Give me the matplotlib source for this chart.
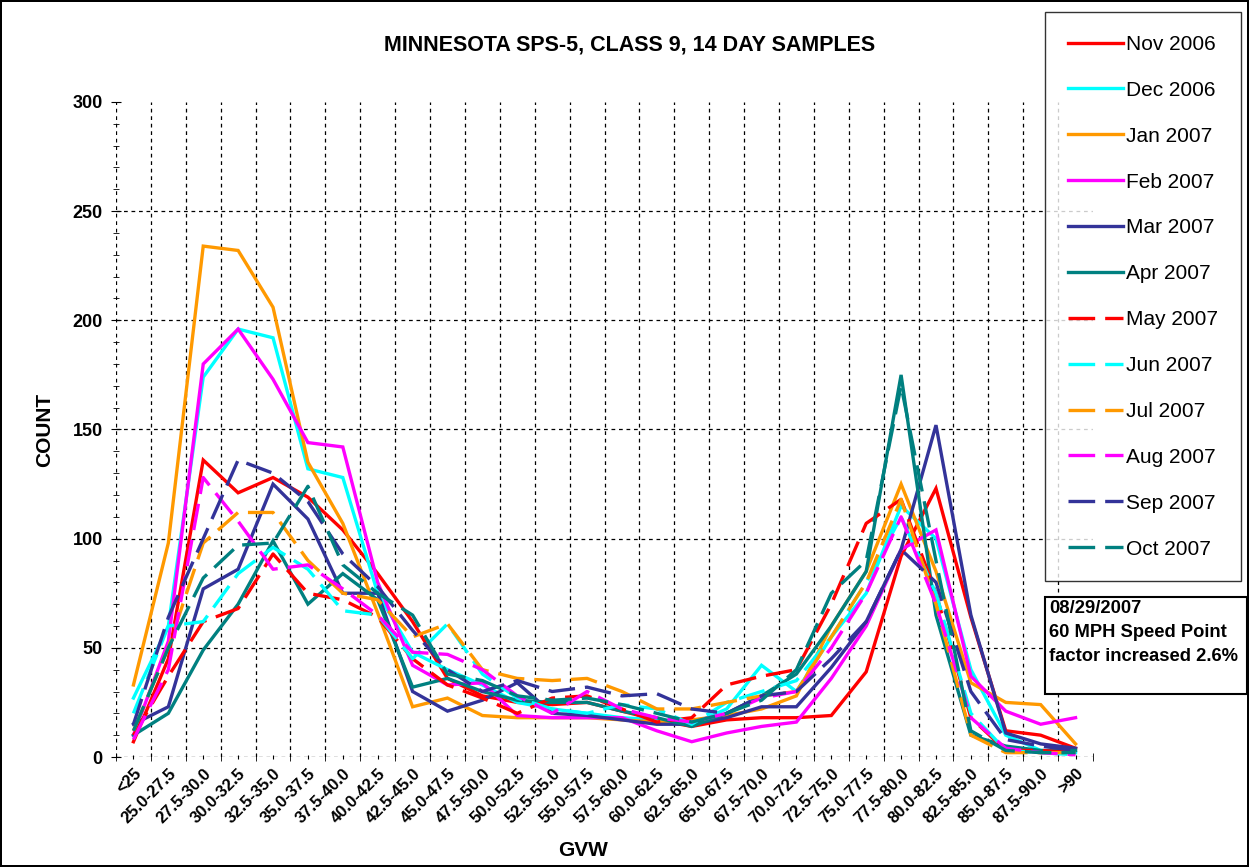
import matplotlib
matplotlib.use("Agg")
import matplotlib.pyplot as plt
from matplotlib.patches import Rectangle

plt.rcParams["font.family"] = ["Liberation Sans", "DejaVu Sans"]

categories = ["<25", "25.0-27.5", "27.5-30.0", "30.0-32.5", "32.5-35.0", "35.0-37.5",
              "37.5-40.0", "40.0-42.5", "42.5-45.0", "45.0-47.5", "47.5-50.0", "50.0-52.5",
              "52.5-55.0", "55.0-57.5", "57.5-60.0", "60.0-62.5", "62.5-65.0", "65.0-67.5",
              "67.5-70.0", "70.0-72.5", "72.5-75.0", "75.0-77.5", "77.5-80.0", "80.0-82.5",
              "82.5-85.0", "85.0-87.5", "87.5-90.0", ">90"]

nov_2006 = [7, 45, 136, 121, 128, 119, 104, 84, 62, 36, 28, 25, 24, 25, 21, 17, 14, 17, 18, 18, 19, 39, 92, 123, 64, 12, 10, 4]
dec_2006 = [27, 60, 174, 196, 192, 132, 128, 75, 48, 40, 33, 25, 22, 20, 18, 17, 15, 22, 42, 30, 55, 75, 115, 100, 40, 10, 3, 2]
jan_2007 = [33, 98, 234, 232, 206, 135, 107, 66, 23, 27, 19, 18, 18, 18, 17, 16, 17, 19, 22, 28, 60, 85, 125, 85, 34, 25, 24, 6]
feb_2007 = [10, 53, 180, 196, 173, 144, 142, 80, 42, 33, 34, 19, 18, 18, 18, 12, 7, 11, 14, 16, 36, 60, 95, 104, 37, 21, 15, 18]
mar_2007 = [15, 23, 77, 86, 125, 109, 75, 75, 30, 21, 26, 34, 20, 19, 17, 15, 15, 18, 23, 23, 41, 62, 95, 152, 65, 11, 6, 4]
apr_2007 = [10, 20, 49, 70, 99, 70, 84, 72, 32, 36, 30, 26, 25, 25, 21, 18, 14, 20, 28, 38, 60, 85, 175, 65, 10, 5, 3, 3]
may_2007 = [10, 37, 62, 68, 93, 75, 72, 64, 45, 33, 27, 20, 27, 28, 22, 16, 18, 33, 37, 40, 70, 107, 118, 75, 18, 3, 3, 2]
jun_2007 = [20, 60, 62, 84, 96, 86, 67, 65, 45, 61, 38, 27, 22, 20, 24, 22, 15, 25, 30, 35, 55, 80, 110, 75, 20, 3, 2, 1]
jul_2007 = [12, 50, 98, 112, 112, 90, 75, 72, 55, 61, 40, 36, 35, 36, 30, 22, 22, 25, 28, 30, 55, 80, 118, 70, 10, 2, 2, 2]
aug_2007 = [8, 40, 128, 108, 86, 88, 77, 65, 48, 47, 40, 28, 20, 30, 22, 18, 16, 20, 27, 30, 50, 75, 110, 70, 18, 4, 2, 1]
sep_2007 = [15, 64, 100, 136, 130, 117, 93, 78, 58, 40, 30, 35, 30, 32, 28, 29, 22, 20, 28, 30, 45, 62, 95, 80, 30, 8, 5, 3]
oct_2007 = [12, 50, 82, 97, 98, 124, 88, 75, 65, 38, 35, 28, 26, 27, 24, 20, 16, 20, 26, 40, 75, 90, 170, 90, 12, 3, 2, 2]

series = [
    ("Nov 2006", nov_2006, "#FF0000", "-"),
    ("Dec 2006", dec_2006, "#00FFFF", "-"),
    ("Jan 2007", jan_2007, "#FF9900", "-"),
    ("Feb 2007", feb_2007, "#FF00FF", "-"),
    ("Mar 2007", mar_2007, "#333399", "-"),
    ("Apr 2007", apr_2007, "#008080", "-"),
    ("May 2007", may_2007, "#FF0000", "--"),
    ("Jun 2007", jun_2007, "#00FFFF", "--"),
    ("Jul 2007", jul_2007, "#FF9900", "--"),
    ("Aug 2007", aug_2007, "#FF00FF", "--"),
    ("Sep 2007", sep_2007, "#333399", "--"),
    ("Oct 2007", oct_2007, "#008080", "--"),
]

W, H = 1249, 867
fig = plt.figure(figsize=(W / 100, H / 100), dpi=100, linewidth=1.5, edgecolor="black")
ax = fig.add_axes([116 / W, 1 - 757 / H, (1093 - 116) / W, (757 - 102) / H])

x = list(range(len(categories)))
handles = []
for label, vals, color, ls in series:
    line, = ax.plot(x, vals, color=color, lw=2.4, label=label, solid_joinstyle="miter")
    if ls == "--":
        line.set_dashes((8, 3))
    handles.append(line)

ax.set_xlim(-0.5, len(categories) - 0.5)
ax.set_ylim(0, 300)

for s in ax.spines.values():
    s.set_visible(False)

# labels on the category centres, grid on the category boundaries
ax.set_xticks(x)
ax.set_xticklabels(categories, rotation=45, ha="right", rotation_mode="anchor",
                   fontsize=12, fontweight="bold")
ax.set_xticks([i - 0.5 for i in range(len(categories) + 1)], minor=True)
ax.set_yticks(range(0, 301, 50))
ax.set_yticklabels([str(v) for v in range(0, 301, 50)], fontsize=13, fontweight="bold")
ax.set_yticks(range(0, 301, 10), minor=True)
ax.tick_params(axis="x", which="major", length=3, direction="inout", pad=5)
ax.tick_params(axis="x", which="minor", length=6, direction="inout")
ax.tick_params(axis="y", which="major", length=7, direction="inout", pad=6)
ax.tick_params(axis="y", which="minor", length=5, direction="inout")

ax.grid(True, which="major", axis="y", color="black", ls=(0, (3, 3)), lw=0.9)
ax.grid(True, which="minor", axis="x", color="black", ls=(0, (3, 3)), lw=0.9)
ax.get_ygridlines()[-1].set_visible(False)
ax.xaxis.get_minor_ticks()[-1].gridline.set_visible(False)

ax.set_ylabel("COUNT", fontsize=15, fontweight="bold")
ax.yaxis.set_label_coords((45 - 116) / 977, 0.5)
ax.set_xlabel("GVW", fontsize=15, fontweight="bold")
ax.xaxis.set_label_coords((583 - 116) / 977, (757 - 850) / 655)
ax.xaxis.label.set_va("center")
ax.yaxis.label.set_va("center")

fig.text(630 / W, 1 - 45 / H, "MINNESOTA SPS-5, CLASS 9, 14 DAY SAMPLES",
         fontsize=15.5, fontweight="bold", ha="center", va="center")

leg = fig.legend(handles=handles, loc="upper left", bbox_to_anchor=(1045 / W, 1 - 12 / H),
                 frameon=True, fancybox=False, edgecolor="black", fontsize=15,
                 handlelength=2.65, labelspacing=1.29, borderpad=1.1, handletextpad=0.15,
                 borderaxespad=0)
leg.get_frame().set_linewidth(1.0)

fig.patches.append(Rectangle((1045 / W, 1 - 694 / H), 202 / W, 97 / H, transform=fig.transFigure,
                             facecolor="white", edgecolor="black", lw=1.5, zorder=5))
fig.text(1049 / W, 1 - 600 / H, "08/29/2007\n60 MPH Speed Point\nfactor increased 2.6%",
         fontsize=13.2, fontweight="bold", va="top", ha="left", linespacing=1.55, zorder=6)

fig.savefig("out.png", dpi=100)
